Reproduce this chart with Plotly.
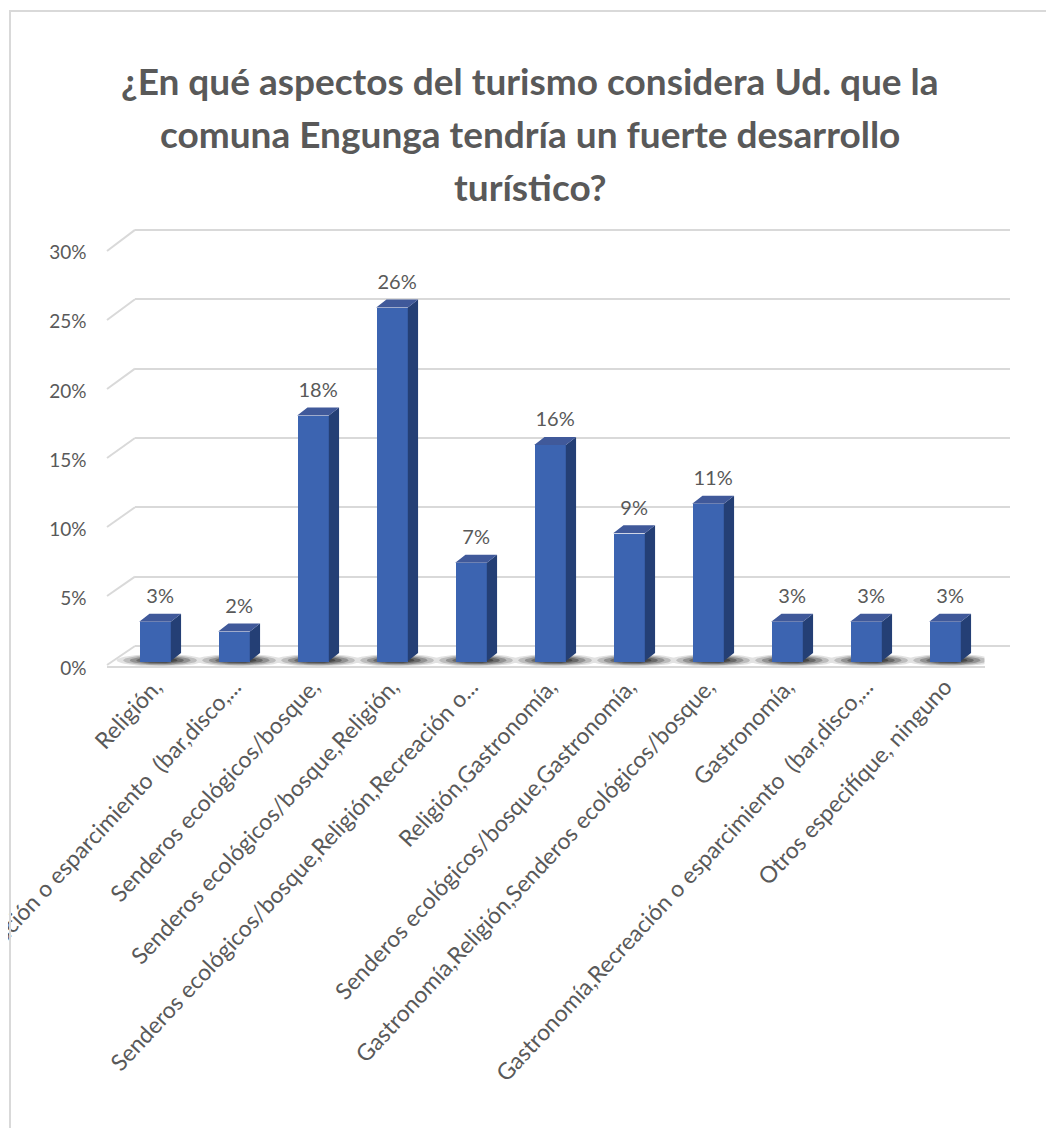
import numpy as np
import plotly.graph_objects as go

# the html body adds an 8px margin, so the figure is a bit smaller than the window
OFF = 8
W, H = 1054 - OFF, 1128 - OFF

categories = [
    "Religión,",
    "Recreación o esparcimiento  (bar,disco,...",
    "Senderos ecológicos/bosque,",
    "Senderos ecológicos/bosque,Religión,",
    "Senderos ecológicos/bosque,Religión,Recreación o...",
    "Religión,Gastronomía,",
    "Senderos ecológicos/bosque,Gastronomía,",
    "Gastronomía,Religión,Senderos ecológicos/bosque,",
    "Gastronomía,",
    "Gastronomía,Recreación o esparcimiento  (bar,disco,...",
    "Otros especifíque, ninguno",
]
percent = [2.84, 2.13, 17.73, 25.53, 7.09, 15.60, 9.22, 11.35, 2.84, 2.84, 2.84]
y_ticks = [0, 5, 10, 15, 20, 25, 30]

TEXT = "#595959"
GRID = "#d9d9d9"
FRONT = "#3c64b1"
SIDE = "#243f75"
TOP = "#40599a"
FONT = "Lato, Open Sans, sans-serif"

# 3D look: bar width and depth offsets in axis units
BW = 0.40
DX = 0.13
DY = 0.58


def px(x):
    return (x - OFF) / W


def py(y):
    return 1 - (y - OFF) / H


xs = np.arange(len(categories))
side_x, side_y, top_x, top_y = [], [], [], []
for i, v in zip(xs, percent):
    xl, xr = i - BW / 2, i + BW / 2
    side_x += [xr, xr + DX, xr + DX, xr, xr, None]
    side_y += [0, DY, v + DY, v, 0, None]
    top_x += [xl, xl + DX, xr + DX, xr, xl, None]
    top_y += [v, v + DY, v + DY, v, v, None]

fig = go.Figure()

# subplot xy: back wall gridlines (drawn first, so behind everything)
fig.add_trace(go.Scatter(x=[0], y=[0], mode="markers", marker=dict(opacity=0),
                         hoverinfo="skip", showlegend=False, xaxis="x", yaxis="y"))

# subplot x2y2: soft floor shadows under each bar
t = np.linspace(0, 2 * np.pi, 48)
for scale, alpha in [(1.0, 0.12), (0.85, 0.18), (0.7, 0.25), (0.55, 0.32), (0.4, 0.4)]:
    sx, sy = [], []
    for i in xs:
        sx += list(i + DX / 2 + 0.55 * scale * np.cos(t)) + [None]
        sy += list(0.05 + 0.45 * scale * np.sin(t)) + [None]
    fig.add_trace(go.Scatter(x=sx, y=sy, fill="toself", mode="lines", line=dict(width=0),
                             fillcolor=f"rgba(20,20,20,{alpha})", hoverinfo="skip",
                             showlegend=False, xaxis="x2", yaxis="y2"))

# subplot x3y3: the bars
fig.add_trace(go.Bar(x=xs, y=percent, width=BW, marker=dict(color=FRONT, line=dict(width=0)),
                     showlegend=False, xaxis="x3", yaxis="y3",
                     hovertemplate="%{y:.0f}%<extra></extra>"))
fig.add_trace(go.Scatter(x=side_x, y=side_y, fill="toself", mode="lines", line=dict(width=0),
                         fillcolor=SIDE, hoverinfo="skip", showlegend=False,
                         xaxis="x3", yaxis="y3"))
fig.add_trace(go.Scatter(x=top_x, y=top_y, fill="toself", mode="lines", line=dict(width=0),
                         fillcolor=TOP, hoverinfo="skip", showlegend=False,
                         xaxis="x3", yaxis="y3"))
fig.add_trace(go.Scatter(x=xs + DX / 2, y=[v + DY + 0.4 for v in percent], mode="text",
                         text=[f"{round(v)}%" for v in percent], textposition="top center",
                         textfont=dict(family=FONT, size=20, color=TEXT),
                         hoverinfo="skip", showlegend=False, cliponaxis=False,
                         xaxis="x3", yaxis="y3"))

# front plane (bars): 0% at y=661px, 13.85 px per percent
y_lo = -0.5
bar_bottom = 661 - y_lo * 13.85
bar_top = 661 - 30 * 13.85
bar_dom_x = [px(115.5), px(984.5)]
bar_dom_y = [py(bar_bottom), py(bar_top)]

hidden = dict(visible=False, fixedrange=True)

fig.update_layout(
    width=W, height=H,
    margin=dict(l=0, r=0, t=0, b=0),
    paper_bgcolor="white",
    plot_bgcolor="rgba(0,0,0,0)",
    font=dict(family=FONT, size=19, color=TEXT),
    xaxis=dict(domain=[px(135), px(1010)], range=[0, 1], **hidden),
    yaxis=dict(domain=[py(646 + 0.5 * 13.87), py(646 - 30.5 * 13.87)], range=[-0.5, 30.5],
               tickvals=y_ticks, showgrid=True, gridcolor=GRID, gridwidth=2,
               zeroline=False, showticklabels=False, showline=False, fixedrange=True),
    xaxis2=dict(domain=bar_dom_x, range=[-0.5, 10.5], anchor="y2", **hidden),
    yaxis2=dict(domain=bar_dom_y, range=[y_lo, 30], anchor="x2", **hidden),
    xaxis3=dict(domain=bar_dom_x, range=[-0.5, 10.5], anchor="y3",
                tickvals=list(xs), ticktext=categories, tickangle=-47,
                tickfont=dict(family=FONT, size=23, color=TEXT),
                showgrid=False, zeroline=False, showline=False, ticks="",
                ticklabeloverflow="allow", automargin=False, fixedrange=True),
    yaxis3=dict(domain=bar_dom_y, range=[y_lo, 30], anchor="x3",
                tickvals=y_ticks, ticktext=[f"{v}%" for v in y_ticks],
                tickfont=dict(family=FONT, size=19, color=TEXT),
                ticklabelstandoff=28, ticklabelshift=7,
                showgrid=False, zeroline=False, showline=False, ticks="",
                automargin=False, fixedrange=True),
    bargap=0,
)

title_lines = [
    "¿En qué aspectos del turismo considera Ud. que la",
    "comuna Engunga tendría un fuerte desarrollo",
    "turístico?",
]
for k, line in enumerate(title_lines):
    fig.add_annotation(text=f"<b>{line}</b>", x=px(530), y=py(80 + 53 * k), xref="paper",
                       yref="paper", showarrow=False, xanchor="center", yanchor="middle",
                       font=dict(family=FONT, size=37, color=TEXT))

shapes = []
# chart border
shapes.append(dict(type="rect", xref="paper", yref="paper", x0=px(10), x1=1.2,
                   y0=-0.2, y1=py(11), line=dict(color=GRID, width=2)))
# floor front edge
shapes.append(dict(type="line", xref="paper", yref="paper", x0=px(107), x1=px(985),
                   y0=py(667), y1=py(667), line=dict(color=GRID, width=2)))
# side-wall diagonals linking front labels to back gridlines
for v in y_ticks:
    shapes.append(dict(type="line", xref="paper", yref="paper",
                       x0=px(107), y0=py(665 - 13.8 * v),
                       x1=px(135), y1=py(646 - 13.87 * v),
                       line=dict(color=GRID, width=2), layer="below"))
fig.update_layout(shapes=shapes)

fig.write_html("out.html")
